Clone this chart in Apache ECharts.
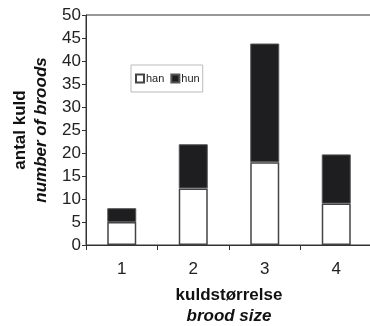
<!DOCTYPE html>
<html><head><meta charset="utf-8">
<script src="https://cdn.jsdelivr.net/npm/echarts@6/dist/echarts.min.js"></script>
<style>html,body{margin:0;padding:0;background:#fff}#c{width:370px;height:326px}</style>
</head><body><div id="c"></div>
<script>
const categories = ['1', '2', '3', '4'];
const han = [5, 12.3, 18, 9];
const hun = [3, 9.6, 25.8, 10.7];
const yTicks = { min: 0, max: 50, interval: 5 };

const chart = echarts.init(document.getElementById('c'), null, { renderer: 'canvas' });
const font = 'Liberation Sans, Arial, sans-serif';
chart.setOption({
  animation: false,
  textStyle: { fontFamily: font },
  grid: { left: 86, right: -2, top: 15, bottom: 81, show: true, borderColor: '#333', borderWidth: 1,
          outerBoundsMode: 'none', containLabel: false },
  legend: {
    data: ['han', 'hun'],
    left: 131, top: 65,
    padding: [8, 3, 8, 4],
    borderColor: '#bbb', borderWidth: 1,
    itemWidth: 8, itemHeight: 8, itemGap: 6,
    icon: 'rect',
    textStyle: { fontFamily: font, fontSize: 11, color: '#222', padding: [0, 0, 0, -3] }
  },
  xAxis: {
    type: 'category', data: categories,
    axisLine: { lineStyle: { color: '#333', width: 1 } },
    axisTick: { show: true, length: 5, alignWithLabel: false, lineStyle: { color: '#333' } },
    axisLabel: { fontSize: 17, color: '#222', margin: 16, fontFamily: font },
    name: '{a|kuldstørrelse}\n{b|brood size}',
    nameLocation: 'middle', nameGap: 40,
    nameTextStyle: {
      rich: {
        a: { fontSize: 17, fontWeight: 'bold', color: '#111', fontFamily: font, lineHeight: 21 },
        b: { fontSize: 17, fontWeight: 'bold', fontStyle: 'italic', color: '#111', fontFamily: font, lineHeight: 21 }
      }
    }
  },
  yAxis: {
    type: 'value', min: yTicks.min, max: yTicks.max, interval: yTicks.interval,
    splitLine: { show: false },
    axisLine: { show: true, lineStyle: { color: '#333', width: 1 } },
    axisTick: { show: true, length: 4, lineStyle: { color: '#333' } },
    axisLabel: { fontSize: 17, color: '#222', margin: 5, fontFamily: font },
    name: '{a|antal kuld}\n{b|number of broods}',
    nameLocation: 'middle', nameGap: 34, nameRotate: 90,
    nameTextStyle: {
      rich: {
        a: { fontSize: 17, fontWeight: 'bold', color: '#111', fontFamily: font, lineHeight: 21 },
        b: { fontSize: 17, fontWeight: 'bold', fontStyle: 'italic', color: '#111', fontFamily: font, lineHeight: 21 }
      }
    }
  },
  series: [
    { name: 'han', type: 'bar', stack: 's', data: han, barWidth: 29,
      itemStyle: { color: '#fff', borderColor: '#444', borderWidth: 1.5 } },
    { name: 'hun', type: 'bar', stack: 's', data: hun, barWidth: 29,
      itemStyle: { color: '#1e1e20', borderColor: '#555', borderWidth: 1 } }
  ]
});
</script></body></html>
